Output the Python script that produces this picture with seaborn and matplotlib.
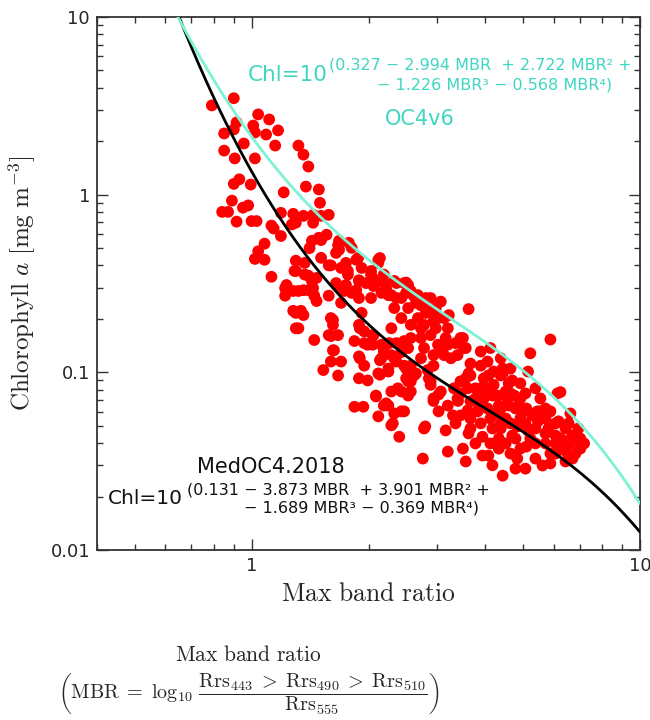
import numpy as np
import matplotlib
matplotlib.use("Agg")
import matplotlib.pyplot as plt
import seaborn as sns
from matplotlib.ticker import LogLocator, NullFormatter

# in situ match-ups: max band ratio vs chlorophyll a
mbr = [
    0.79, 0.90, 1.04, 1.11, 0.915, 0.85, 0.90, 1.01, 1.02, 1.09,
    1.17, 0.955, 1.15, 1.32, 1.36, 1.40, 0.85, 0.905, 1.02, 0.93,
    0.90, 0.995, 1.21, 1.38, 1.49, 1.50, 0.89, 0.84, 0.87, 0.95,
    0.98, 0.915, 1.00, 1.03, 1.19, 1.28, 1.36, 1.44, 1.51, 1.30,
    1.44, 1.125, 1.58, 1.27, 1.14, 1.08, 1.04, 1.02, 1.08, 1.125,
    1.19, 1.30, 1.30, 1.40, 1.23, 1.22, 1.28, 1.36, 1.44, 1.47,
    1.30, 1.36, 1.30, 1.45, 1.53, 1.43, 1.51, 1.32, 1.40, 1.45,
    1.58, 1.28, 1.34, 1.32, 1.60, 1.62, 1.58, 1.67, 1.63, 1.60,
    1.70, 1.67, 1.37, 1.41, 1.49, 1.56, 1.29, 1.37, 1.43, 1.22,
    1.68, 1.78, 1.68, 1.58, 1.86, 1.88, 2.12, 2.14, 2.12, 1.60,
    1.70, 1.77, 1.77, 2.03, 1.89, 2.05, 2.18, 2.36, 2.50, 1.65,
    1.75, 1.89, 1.86, 2.03, 2.06, 2.19, 2.33, 2.47, 2.57, 2.29,
    2.03, 1.89, 1.73, 1.67, 1.89, 1.95, 1.84, 1.99, 2.06, 2.16,
    1.89, 1.95, 1.89, 1.99, 2.12, 2.25, 2.16, 2.29, 2.47, 2.43,
    2.57, 2.73, 2.84, 2.57, 2.29, 2.43, 2.57, 2.89, 2.94, 1.84,
    1.94, 2.09, 2.19, 2.12, 2.33, 2.47, 2.29, 2.40, 2.78, 2.76,
    3.03, 1.62, 1.60, 1.62, 1.90, 1.95, 2.05, 2.05, 1.90, 2.14,
    2.14, 2.26, 2.36, 2.50, 2.50, 2.65, 2.09, 2.22, 2.31, 2.80,
    3.03, 3.16, 3.20, 3.30, 2.86, 2.47, 1.67, 1.81, 2.53, 2.68,
    2.78, 2.89, 3.02, 3.62, 5.88, 5.22, 5.15, 6.13, 5.88, 2.19,
    2.25, 2.43, 2.62, 2.33, 2.53, 2.73, 2.68, 2.57, 2.78, 2.94,
    3.13, 3.20, 2.89, 2.73, 3.02, 2.78, 3.20, 3.45, 3.52, 3.39,
    3.13, 2.94, 2.53, 2.19, 2.33, 2.25, 2.47, 2.62, 2.53, 2.38,
    2.53, 2.25, 2.43, 2.94, 2.89, 3.07, 2.94, 3.20, 3.45, 3.89,
    4.05, 3.89, 3.66, 3.96, 4.20, 4.38, 4.59, 4.20, 3.89, 3.60,
    3.45, 3.32, 3.39, 3.66, 3.96, 4.30, 4.56, 4.75, 4.86, 4.38,
    4.05, 5.10, 5.44, 3.82, 3.22, 3.07, 2.81, 2.98, 3.50, 3.56,
    4.43, 6.24, 3.62, 4.07, 4.43, 4.69, 3.77, 4.17, 4.51, 3.40,
    3.60, 3.85, 4.33, 4.59, 4.97, 5.28, 5.54, 6.17, 6.55, 6.70,
    6.43, 7.02, 6.70, 6.43, 6.06, 5.61, 5.38, 5.10, 4.83, 5.07,
    4.78, 4.43, 4.17, 3.93, 4.07, 4.33, 4.33, 4.69, 4.17, 3.93,
    3.62, 3.50, 5.46, 5.81, 6.06, 4.83, 5.15, 6.82, 6.94, 6.43,
    5.71, 6.24, 7.18, 6.62, 5.71, 4.92, 4.64, 4.38, 3.66, 3.35,
    3.77, 3.56, 4.64, 5.38, 5.88, 5.54, 5.07, 4.92, 3.66, 4.12,
    4.38, 4.64,
    # dense band between the two curves
    2.22, 2.36, 2.50, 2.65, 2.81, 2.98, 3.16, 3.35, 2.43, 2.29,
    2.57, 2.73, 3.07, 3.26, 2.36, 2.89,
    # dense cluster at high MBR
    3.56, 3.77, 4.00, 4.25, 4.51, 4.78, 5.07, 5.38, 5.71, 6.06,
    6.43, 6.82, 5.88, 6.24, 6.62, 7.02, 6.06, 5.71, 5.22, 4.92,
    4.51, 4.12, 4.78, 4.38, 3.89, 3.66, 3.45, 4.92, 5.38, 4.64,
    4.12,
    # upper band at moderate MBR
    1.65, 1.75, 1.92, 1.97, 2.16, 1.81, 1.70, 1.92, 1.51, 1.47,
]
chl = [
    3.18, 3.49, 2.83, 2.65, 2.55, 2.21, 2.33, 2.45, 2.24, 2.18,
    2.30, 1.94, 1.89, 1.89, 1.68, 1.44, 1.77, 1.60, 1.60, 1.22,
    1.15, 1.14, 1.03, 1.11, 1.07, 0.90, 0.925, 0.80, 0.80, 0.845,
    0.87, 0.705, 0.71, 0.71, 0.79, 0.78, 0.76, 0.77, 0.76, 0.695,
    0.695, 0.67, 0.77, 0.68, 0.645, 0.53, 0.48, 0.435, 0.43, 0.345,
    0.585, 0.425, 0.372, 0.35, 0.31, 0.27, 0.287, 0.29, 0.298, 0.252,
    0.216, 0.21, 0.177, 0.152, 0.103, 0.55, 0.555, 0.287, 0.29, 0.27,
    0.27, 0.222, 0.222, 0.177, 0.202, 0.185, 0.162, 0.162, 0.133, 0.115,
    0.115, 0.096, 0.413, 0.50, 0.572, 0.595, 0.372, 0.355, 0.327, 0.298,
    0.55, 0.536, 0.49, 0.40, 0.43, 0.44, 0.43, 0.44, 0.413, 0.40,
    0.387, 0.372, 0.355, 0.372, 0.33, 0.34, 0.327, 0.318, 0.32, 0.318,
    0.31, 0.327, 0.29, 0.355, 0.306, 0.318, 0.327, 0.318, 0.287, 0.272,
    0.262, 0.262, 0.287, 0.306, 0.185, 0.17, 0.15, 0.143, 0.162, 0.143,
    0.123, 0.109, 0.0925, 0.09, 0.0986, 0.101, 0.12, 0.125, 0.148, 0.13,
    0.109, 0.12, 0.103, 0.089, 0.078, 0.078, 0.078, 0.085, 0.0713, 0.064,
    0.064, 0.0732, 0.065, 0.0565, 0.0587, 0.0603, 0.0503, 0.0434, 0.0483, 0.0327,
    0.0603, 0.197, 0.16, 0.133, 0.177, 0.146, 0.162, 0.143, 0.12, 0.117,
    0.097, 0.146, 0.115, 0.105, 0.0925, 0.0986, 0.074, 0.0669, 0.0516, 0.0496,
    0.075, 0.0471, 0.0358, 0.0572, 0.0925, 0.15, 0.52, 0.502, 0.31, 0.272,
    0.238, 0.222, 0.202, 0.227, 0.153, 0.128, 0.101, 0.0761, 0.0603, 0.355,
    0.272, 0.262, 0.268, 0.23, 0.23, 0.238, 0.202, 0.185, 0.185, 0.194,
    0.202, 0.177, 0.162, 0.156, 0.143, 0.137, 0.143, 0.156, 0.137, 0.125,
    0.125, 0.125, 0.137, 0.131, 0.12, 0.105, 0.109, 0.096, 0.089, 0.0813,
    0.074, 0.065, 0.0603, 0.109, 0.089, 0.078, 0.069, 0.065, 0.0572, 0.131,
    0.115, 0.109, 0.096, 0.0925, 0.101, 0.096, 0.0867, 0.085, 0.0813, 0.0813,
    0.089, 0.0813, 0.0713, 0.0687, 0.0713, 0.074, 0.0713, 0.074, 0.065, 0.0626,
    0.0626, 0.0626, 0.0603, 0.0603, 0.21, 0.25, 0.262, 0.23, 0.156, 0.137,
    0.105, 0.0774, 0.0986, 0.096, 0.0986, 0.09, 0.0813, 0.074, 0.078, 0.069,
    0.061, 0.0626, 0.065, 0.065, 0.0595, 0.0572, 0.0603, 0.053, 0.0516, 0.0441,
    0.041, 0.0372, 0.0327, 0.0315, 0.0349, 0.0299, 0.0327, 0.0382, 0.0327, 0.0287,
    0.0287, 0.0262, 0.030, 0.034, 0.034, 0.0372, 0.0424, 0.044, 0.0483, 0.0434,
    0.0453, 0.0372, 0.053, 0.0483, 0.0441, 0.0496, 0.047, 0.0424, 0.0483, 0.0483,
    0.0398, 0.0372, 0.0398, 0.0587, 0.055, 0.055, 0.0516, 0.0516, 0.055, 0.0516,
    0.0398, 0.0315, 0.0349, 0.0398, 0.0307, 0.0713, 0.0761, 0.0867, 0.112, 0.137,
    0.12, 0.105,
    # dense band between the two curves
    0.298, 0.262, 0.280, 0.246, 0.216, 0.177, 0.156, 0.146, 0.202, 0.177,
    0.156, 0.177, 0.137, 0.12, 0.146, 0.262,
    # dense cluster at high MBR
    0.0925, 0.0713, 0.0813, 0.0587, 0.055, 0.0626, 0.0516, 0.0483, 0.0453, 0.0398,
    0.0361, 0.0349, 0.0349, 0.0424, 0.0398, 0.0424, 0.0516, 0.0626, 0.0424, 0.0372,
    0.0398, 0.0398, 0.0424, 0.0483, 0.0516, 0.0483, 0.0761, 0.0713, 0.0813, 0.0761,
    0.055,
    # upper band at moderate MBR
    0.47, 0.413, 0.387, 0.318, 0.28, 0.28, 0.246, 0.216, 0.441, 0.34,
]

# polynomial coefficients printed on the chart (in log10 MBR)
oc4v6_coef = [0.327, -2.994, 2.722, -1.226, -0.568]
medoc4_coef = [0.131, -3.873, 3.901, -1.689, -0.369]

x_ticks = [1, 10]
x_tick_labels = ["1", "10"]
y_ticks = [0.01, 0.1, 1, 10]
y_tick_labels = ["0.01", "0.1", "1", "10"]

cyan_line = "#7df2d4"
cyan_text = "#3fd6c2"

sns.set_style("ticks")
plt.rcParams["font.family"] = ["DejaVu Sans"]
plt.rcParams["mathtext.fontset"] = "cm"

fig = plt.figure(figsize=(6.5, 7.2), dpi=100)
ax = fig.add_axes([97 / 650, 1 - 550 / 720, 543 / 650, 533 / 720])
ax.set_xscale("log")
ax.set_yscale("log")

curve_x = np.logspace(np.log10(0.5), 1, 300)


def band_ratio_model(coef):
    return 10 ** np.polyval(coef[::-1], np.log10(curve_x))


sns.scatterplot(x=mbr, y=chl, ax=ax, color="#ff0000", s=72,
                edgecolor="none", linewidth=0, zorder=2)
sns.lineplot(x=curve_x, y=band_ratio_model(medoc4_coef), ax=ax,
             color="black", linewidth=2.0, zorder=3)
sns.lineplot(x=curve_x, y=band_ratio_model(oc4v6_coef), ax=ax,
             color=cyan_line, linewidth=2.0, zorder=3)

ax.set_xlim(0.4, 10)
ax.set_ylim(0.01, 10)
ax.set_xticks(x_ticks, x_tick_labels)
ax.set_yticks(y_ticks, y_tick_labels)
ax.xaxis.set_minor_locator(LogLocator(base=10, subs=np.arange(2, 10)))
ax.yaxis.set_minor_locator(LogLocator(base=10, subs=np.arange(2, 10)))
ax.xaxis.set_minor_formatter(NullFormatter())
ax.yaxis.set_minor_formatter(NullFormatter())
ax.tick_params(which="both", direction="in", top=True, right=True,
               color="#333333", width=1.0)
ax.tick_params(which="major", length=8, labelsize=13, pad=5)
ax.tick_params(which="minor", length=4)
for sp in ax.spines.values():
    sp.set_linewidth(1.3)
    sp.set_color("#333333")

ax.set_xlabel(r"$\mathrm{Max\ band\ ratio}$", fontsize=18.5, va="top")
ax.xaxis.set_label_coords(0.5, -0.058)
ax.set_ylabel(r"$\mathrm{Chlorophyll}\ a\ [\mathrm{mg\ m^{-3}}]$", fontsize=18)
ax.yaxis.set_label_coords(-0.109, 0.5)

# OC4v6 equation
fig.text(248 / 650, 1 - 75 / 720, "Chl=10", color=cyan_text, fontsize=15.5, va="center")
fig.text(329 / 650, 1 - 65 / 720, "(0.327 \u2212 2.994 MBR  + 2.722 MBR\u00b2 +",
         color=cyan_text, fontsize=11.5, va="center")
fig.text(377 / 650, 1 - 85 / 720, "\u2212 1.226 MBR\u00b3 \u2212 0.568 MBR\u2074)",
         color=cyan_text, fontsize=11.5, va="center")
fig.text(385 / 650, 1 - 119 / 720, "OC4v6", color=cyan_text, fontsize=15, va="center")

# MedOC4.2018 equation
fig.text(197 / 650, 1 - 467 / 720, "MedOC4.2018", color="#111111", fontsize=15, va="center")
fig.text(108 / 650, 1 - 498 / 720, "Chl=10", color="#111111", fontsize=14.5, va="center")
fig.text(187 / 650, 1 - 490 / 720, "(0.131 \u2212 3.873 MBR  + 3.901 MBR\u00b2 +",
         color="#111111", fontsize=11.5, va="center")
fig.text(244 / 650, 1 - 508 / 720, "\u2212 1.689 MBR\u00b3 \u2212 0.369 MBR\u2074)",
         color="#111111", fontsize=11.5, va="center")

# definition of MBR below the chart
fig.text(248 / 650, 1 - 655 / 720, r"$\mathrm{Max\ band\ ratio}$",
         ha="center", va="center", fontsize=15.5)
fig.text(58 / 650, 1 - 694 / 720,
         r"$\left(\mathrm{MBR}\;=\;\log_{10}\,\dfrac{\mathrm{Rrs}_{443}\;>\;\mathrm{Rrs}_{490}\;>\;\mathrm{Rrs}_{510}}{\mathrm{Rrs}_{555}}\right)$",
         ha="left", va="center", fontsize=14.5)

fig.savefig("out.png", dpi=100)
